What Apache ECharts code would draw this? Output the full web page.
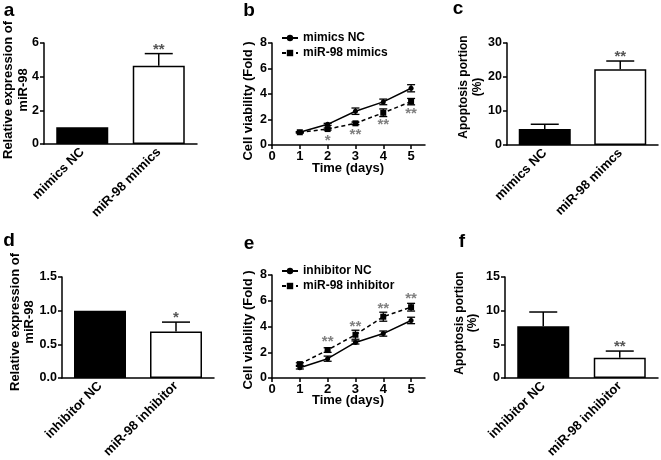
<!DOCTYPE html>
<html>
<head>
<meta charset="utf-8">
<script src="https://cdn.jsdelivr.net/npm/echarts@6/dist/echarts.min.js"></script>
<style>html,body{margin:0;padding:0;background:#fff}#c{width:661px;height:460px}</style>
</head>
<body>
<div id="c"></div>
<script>
// ---- data ----
const catsA = ['mimics NC', 'miR-98 mimics'];
const valsA = [1.0, 4.65];
const errA = [0, 0.72];
const sigA = ['', '**'];

const catsC = ['mimics NC', 'miR-98 mimcs'];
const valsC = [4.7, 22.3];
const errC = [1.4, 2.4];
const sigC = ['', '**'];

const catsD = ['inhibitor NC', 'miR-98 inhibitor'];
const valsD = [1.0, 0.69];
const errD = [0, 0.14];
const sigD = ['', '*'];

const catsF = ['inhibitor NC', 'miR-98 inhibitor'];
const valsF = [7.7, 3.0];
const errF = [2.1, 1.0];
const sigF = ['', '**'];

const days = [1, 2, 3, 4, 5];
const dayTicks = [0, 1, 2, 3, 4, 5];
const ncB = [1.0, 1.62, 2.65, 3.38, 4.45];
const errNcB = [0.05, 0.08, 0.25, 0.22, 0.28];
const mimB = [1.0, 1.25, 1.7, 2.53, 3.4];
const errMimB = [0.05, 0.08, 0.1, 0.3, 0.25];
const sigB = ['', '*', '**', '**', '**'];

const ncE = [0.8, 1.5, 2.76, 3.45, 4.47];
const errNcE = [0.1, 0.2, 0.12, 0.2, 0.25];
const inhE = [1.08, 2.17, 3.36, 4.76, 5.5];
const errInhE = [0.1, 0.18, 0.35, 0.35, 0.3];
const sigE = ['', '**', '**', '**', '**'];

// ---- helpers ----
const FF = '"Liberation Sans", Arial, sans-serif';
const chart = echarts.init(document.getElementById('c'), null, {renderer: 'canvas'});

function txt(text, x, y, size, rot, lh) {
  return {
    type: 'text', x: x, y: y, rotation: rot || 0,
    style: {
      text: text, font: 'bold ' + size + 'px ' + FF, fill: '#000',
      textAlign: 'center', textVerticalAlign: 'middle', align: 'center', verticalAlign: 'middle',
      lineHeight: lh || size + 2
    }
  };
}

function barErrRender(sig) {
  return function (params, api) {
    const x = api.value(0), v = api.value(1), e = api.value(2);
    const top = api.coord([x, v]);
    const up = api.coord([x, v + e]);
    const ch = [];
    const ls = {stroke: '#000', lineWidth: 1.5};
    if (e > 0) {
      ch.push({type: 'line', shape: {x1: top[0], y1: top[1], x2: up[0], y2: up[1]}, style: ls});
      ch.push({type: 'line', shape: {x1: up[0] - 14, y1: up[1], x2: up[0] + 14, y2: up[1]}, style: ls});
    }
    const s = sig[params.dataIndex];
    if (s) {
      ch.push({type: 'text', x: up[0], y: up[1] - 4,
        style: {text: s, font: 'bold 15px ' + FF, fill: '#555',
          textAlign: 'center', textVerticalAlign: 'middle', align: 'center', verticalAlign: 'middle'}});
    }
    return {type: 'group', children: ch};
  };
}

function lineErrRender(params, api) {
  const x = api.value(0), v = api.value(1), e = api.value(2);
  const lo = api.coord([x, v - e]);
  const hi = api.coord([x, v + e]);
  const ls = {stroke: '#000', lineWidth: 1.3};
  return {type: 'group', children: [
    {type: 'line', shape: {x1: lo[0], y1: lo[1], x2: hi[0], y2: hi[1]}, style: ls},
    {type: 'line', shape: {x1: lo[0] - 4, y1: lo[1], x2: lo[0] + 4, y2: lo[1]}, style: ls},
    {type: 'line', shape: {x1: hi[0] - 4, y1: hi[1], x2: hi[0] + 4, y2: hi[1]}, style: ls}
  ]};
}

function sigRender(sig, offPx) {
  return function (params, api) {
    const s = sig[params.dataIndex];
    if (!s) return null;
    const p = api.coord([api.value(0), api.value(1)]);
    return {type: 'text', x: p[0], y: p[1] + offPx,
      style: {text: s, font: 'bold 15px ' + FF, fill: '#808080',
        textAlign: 'center', textVerticalAlign: 'middle', align: 'center', verticalAlign: 'middle'}};
  };
}

const axisLine = {lineStyle: {color: '#000', width: 1.5}};
const axisTick = {length: 4, lineStyle: {color: '#000', width: 1.5}};
const lab = {color: '#000', fontWeight: 'bold', fontSize: 13, fontFamily: FF};

const grids = [
  {left: 44, top: 43, width: 153, height: 101},   // a
  {left: 272, top: 43, width: 153, height: 102},  // b
  {left: 507, top: 43, width: 151, height: 102},  // c
  {left: 62, top: 277, width: 152, height: 101},  // d
  {left: 272, top: 275, width: 153, height: 103}, // e
  {left: 505, top: 277, width: 153, height: 101}  // f
].map(g => Object.assign({outerBoundsMode: 'none', containLabel: false}, g));

function catAxis(gi, cats) {
  return {type: 'category', gridIndex: gi, data: cats, axisLine: axisLine,
    axisTick: Object.assign({alignWithLabel: true}, axisTick),
    axisLabel: Object.assign({rotate: 45, margin: 6, interval: 0}, lab)};
}
function dayAxis(gi) {
  return {type: 'value', gridIndex: gi, min: 0, max: 5.5, interval: 1, splitLine: {show: false},
    axisLine: axisLine, axisTick: Object.assign({customValues: dayTicks}, axisTick),
    axisLabel: Object.assign({}, lab, {customValues: dayTicks, margin: 5, fontSize: 13})};
}
function valAxis(gi, max, interval, fmt) {
  const a = {type: 'value', gridIndex: gi, min: 0, max: max, interval: interval, splitLine: {show: false},
    axisLine: Object.assign({show: true}, axisLine), axisTick: Object.assign({show: true}, axisTick),
    axisLabel: Object.assign({}, lab, {margin: 5, fontSize: 12.5})};
  if (fmt) a.axisLabel.formatter = fmt;
  return a;
}

function barSeries(gi, vals) {
  return {type: 'bar', xAxisIndex: gi, yAxisIndex: gi, barWidth: 52, silent: true,
    data: vals.map((v, i) => ({value: v, itemStyle: i === 0
      ? {color: '#000', borderColor: '#000', borderWidth: 1.5}
      : {color: '#fff', borderColor: '#000', borderWidth: 1.5}}))};
}
function barErrSeries(gi, vals, errs, sig) {
  return {type: 'custom', xAxisIndex: gi, yAxisIndex: gi, z: 5, silent: true,
    renderItem: barErrRender(sig), data: vals.map((v, i) => [i, v, errs[i]])};
}
function lineSeries(gi, name, vals, dashed) {
  return {type: 'line', name: name, xAxisIndex: gi, yAxisIndex: gi, silent: true,
    symbol: dashed ? 'rect' : 'circle', symbolSize: dashed ? 6 : 5,
    itemStyle: {color: '#000'},
    lineStyle: {color: '#000', width: 1.5, type: dashed ? [4, 3] : 'solid'},
    data: days.map((d, i) => [d, vals[i]])};
}
function lineErrSeries(gi, vals, errs) {
  return {type: 'custom', xAxisIndex: gi, yAxisIndex: gi, z: 4, silent: true,
    renderItem: lineErrRender, data: days.map((d, i) => [d, vals[i], errs[i]])};
}
function sigSeries(gi, vals, sig, offPx) {
  return {type: 'custom', xAxisIndex: gi, yAxisIndex: gi, z: 6, silent: true,
    renderItem: sigRender(sig, offPx), data: days.map((d, i) => [d, vals[i]])};
}

const legendBase = {orient: 'vertical', itemWidth: 16, itemHeight: 8, itemGap: 3, selectedMode: false,
  textStyle: {color: '#000', fontWeight: 'bold', fontSize: 12, fontFamily: FF}};

const option = {
  animation: false,
  backgroundColor: '#fff',
  grid: grids,
  legend: [
    Object.assign({left: 276, top: 27, data: ['mimics NC', 'miR-98 mimics']}, legendBase),
    Object.assign({left: 276, top: 260, data: ['inhibitor NC', 'miR-98 inhibitor']}, legendBase)
  ],
  xAxis: [catAxis(0, catsA), dayAxis(1), catAxis(2, catsC), catAxis(3, catsD), dayAxis(4), catAxis(5, catsF)],
  yAxis: [valAxis(0, 6, 2), valAxis(1, 8, 2), valAxis(2, 30, 10),
          valAxis(3, 1.5, 0.5, v => v.toFixed(1)), valAxis(4, 8, 2), valAxis(5, 15, 5)],
  series: [
    barSeries(0, valsA), barErrSeries(0, valsA, errA, sigA),
    lineSeries(1, 'mimics NC', ncB, false), lineSeries(1, 'miR-98 mimics', mimB, true),
    lineErrSeries(1, ncB, errNcB), lineErrSeries(1, mimB, errMimB), sigSeries(1, mimB, sigB, 12),
    barSeries(2, valsC), barErrSeries(2, valsC, errC, sigC),
    barSeries(3, valsD), barErrSeries(3, valsD, errD, sigD),
    lineSeries(4, 'inhibitor NC', ncE, false), lineSeries(4, 'miR-98 inhibitor', inhE, true),
    lineErrSeries(4, ncE, errNcE), lineErrSeries(4, inhE, errInhE), sigSeries(4, inhE, sigE, -8),
    barSeries(5, valsF), barErrSeries(5, valsF, errF, sigF)
  ],
  graphic: [
    txt('a', 9, 11, 19), txt('b', 249, 11, 19), txt('c', 458, 9, 19),
    txt('d', 9, 241, 19), txt('e', 249, 244, 19), txt('f', 462, 242, 19),
    txt('Relative expression of\nmiR-98', 16, 90, 13, Math.PI / 2, 15),
    txt('Cell viability (Fold )', 248, 101, 13, Math.PI / 2),
    txt('Apoptosis portion\n(%)', 471, 87, 12, Math.PI / 2, 14),
    txt('Relative expression of\nmiR-98', 22, 322, 13, Math.PI / 2, 14),
    txt('Cell viability (Fold )', 248, 330, 13, Math.PI / 2),
    txt('Apoptosis portion\n(%)', 466, 323, 12, Math.PI / 2, 13),
    txt('Time (days)', 348, 168, 13),
    txt('Time (days)', 348, 400, 13)
  ]
};
chart.setOption(option);
</script>
</body>
</html>
